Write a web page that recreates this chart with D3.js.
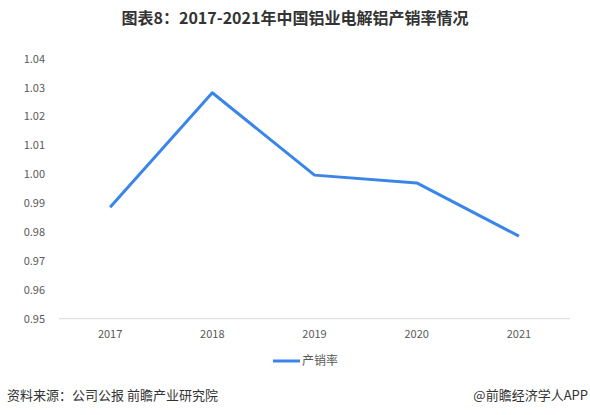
<!DOCTYPE html>
<html><head><meta charset="utf-8">
<script src="https://cdn.jsdelivr.net/npm/d3@7"></script>
<style>body{margin:0;background:#fff;}svg{display:block;}</style>
</head><body>
<svg id="c" width="590" height="415"></svg>
<script>
const years = ["2017","2018","2019","2020","2021"];
const rate = [0.9886, 1.0282, 0.9997, 0.9970, 0.9786];
const yTicks = [0.95,0.96,0.97,0.98,0.99,1.00,1.01,1.02,1.03,1.04];
const title = "图表8：2017-2021年中国铝业电解铝产销率情况";
const seriesName = "产销率";
const source = "资料来源：公司公报 前瞻产业研究院";
const brand = "@前瞻经济学人APP";

const svg = d3.select("#c");
const font = "'Microsoft YaHei','Noto Sans CJK SC',sans-serif";
const x = d3.scaleBand().domain(years).range([59,570]);
const y = d3.scaleLinear().domain([0.95,1.04]).range([318.7,58.7]);

svg.append("text").attr("x",295).attr("y",24).attr("text-anchor","middle")
  .attr("font-family",font).attr("font-size",16).attr("font-weight","bold").attr("fill","#333")
  .text(title);

svg.append("line").attr("x1",59).attr("x2",570).attr("y1",y(0.95)).attr("y2",y(0.95))
  .attr("stroke","#d9d9d9").attr("stroke-width",1);

svg.append("g").selectAll("text").data(yTicks).join("text")
  .attr("x",45).attr("y",d=>y(d)+4).attr("text-anchor","end")
  .attr("font-family",font).attr("font-size",11).attr("fill","#595959")
  .text(d=>d3.format(".2f")(d));

svg.append("g").selectAll("text").data(years).join("text")
  .attr("x",d=>x(d)+x.bandwidth()/2).attr("y",338).attr("text-anchor","middle")
  .attr("font-family",font).attr("font-size",11).attr("fill","#595959")
  .text(d=>d);

const line = d3.line().x((d,i)=>x(years[i])+x.bandwidth()/2).y(d=>y(d));
svg.append("path").datum(rate).attr("d",line).attr("fill","none")
  .attr("stroke","#3a86e8").attr("stroke-width",3).attr("stroke-linejoin","round");

svg.append("line").attr("x1",273).attr("x2",300).attr("y1",361).attr("y2",361)
  .attr("stroke","#3a86e8").attr("stroke-width",3);
svg.append("text").attr("x",302).attr("y",365).attr("font-family",font).attr("font-size",12)
  .attr("fill","#595959").text(seriesName);

svg.append("text").attr("x",7).attr("y",400).attr("font-family",font).attr("font-size",13)
  .attr("fill","#333").text(source);
svg.append("text").attr("x",588).attr("y",400).attr("text-anchor","end").attr("font-family",font).attr("font-size",13)
  .attr("fill","#333").text(brand);
</script>
</body></html>
